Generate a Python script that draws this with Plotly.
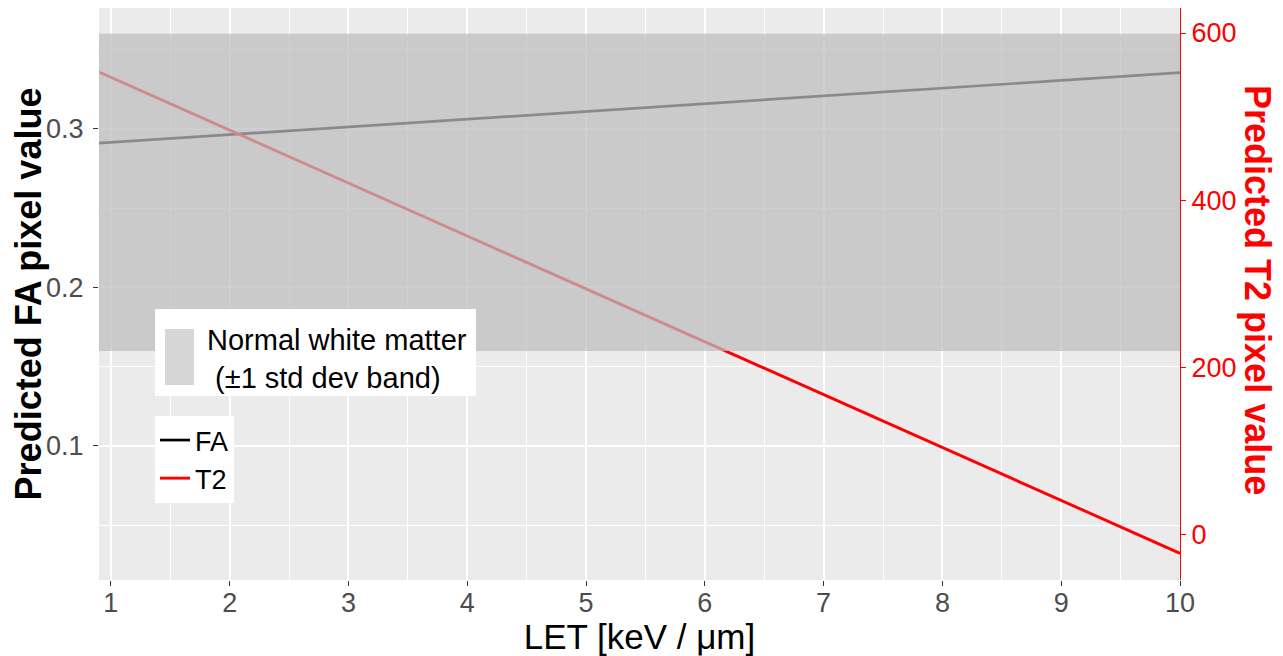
import plotly.graph_objects as go

# Data
LET = [0.9, 10.0]
FA = [0.2910, 0.3355]
T2 = [553.4, -21.9]
band_low, band_high = 0.16, 0.36
x_ticks = [1, 2, 3, 4, 5, 6, 7, 8, 9, 10]
fa_ticks = [0.1, 0.2, 0.3]
fa_ticktext = ["0.1", "0.2", "0.3"]
t2_ticks = [0, 200, 400, 600]
band_label = "Normal white matter<br>\u00a0(±1 std dev band)"

FONT = "Liberation Sans, Arial, sans-serif"
TICKGRAY = "#4D4D4D"
RED = "#FF0000"

fig = go.Figure()
fig.add_trace(go.Scatter(x=LET, y=FA, mode="lines", name="FA",
                         line=dict(color="black", width=2.7), legend="legend2", yaxis="y"))
fig.add_trace(go.Scatter(x=LET, y=T2, mode="lines", name="T2",
                         line=dict(color=RED, width=2.9), legend="legend2", yaxis="y2"))

# band (drawn above the lines, semi-transparent, like the reference)
fig.add_shape(type="rect", xref="paper", yref="y", x0=0, x1=1, y0=band_low, y1=band_high,
              fillcolor="rgb(189,189,189)", opacity=0.73, line=dict(width=0), layer="above")

# band legend box (drawn as shapes + text)
fig.add_shape(type="rect", xref="paper", yref="paper", x0=0.0518, x1=0.3488, y0=0.3217, y1=0.4738,
              fillcolor="white", line=dict(width=0), layer="above")
fig.add_shape(type="rect", xref="paper", yref="paper", x0=0.0611, x1=0.0879, y0=0.3409, y1=0.4388,
              fillcolor="#D6D6D6", line=dict(width=0), layer="above")
fig.add_annotation(text=band_label, xref="paper", yref="paper", x=0.0985, y=0.3864,
                   xanchor="left", yanchor="middle", align="left", showarrow=False,
                   font=dict(size=29, color="black", family=FONT))

fig.update_layout(
    width=1275, height=648,
    margin=dict(l=91, r=103, t=0, b=76),
    paper_bgcolor="white", plot_bgcolor="#EBEBEB",
    font=dict(family=FONT, size=27, color="black"),
    xaxis=dict(range=[0.9, 10], tickvals=x_ticks, showgrid=True, gridcolor="white", gridwidth=2.1,
               zeroline=False, showline=False, ticks="outside", ticklen=5, tickcolor="#333333",
               tickfont=dict(size=27, color=TICKGRAY), ticklabelstandoff=-6,
               minor=dict(dtick=0.5, tick0=0.5, showgrid=True, gridcolor="white", gridwidth=1.1, ticks=""),
               title=dict(text="LET [keV / μm]", font=dict(size=35, color="black"), standoff=8)),
    yaxis=dict(range=[0.01546, 0.3763], tickvals=fa_ticks, ticktext=fa_ticktext,
               showgrid=True, gridcolor="white", gridwidth=2.1,
               zeroline=False, showline=False, ticks="outside", ticklen=5, tickcolor="#333333",
               tickfont=dict(size=27, color=TICKGRAY), ticklabelstandoff=4,
               minor=dict(dtick=0.05, tick0=0.05, showgrid=True, gridcolor="white", gridwidth=1.1, ticks=""),
               title=dict(text="<b>Predicted FA pixel value</b>", font=dict(size=36, color="black"), standoff=8)),
    yaxis2=dict(range=[-53.8, 629.9], tickvals=t2_ticks, overlaying="y", side="right",
                showgrid=False, zeroline=False, showline=True, linecolor=RED, linewidth=1,
                ticks="outside", ticklen=5, tickcolor=RED, tickprefix="\u00a0\u2009",
                tickfont=dict(size=27, color=RED)),
    legend2=dict(x=0.0518, y=0.2867, xanchor="left", yanchor="top", bgcolor="white",
                 font=dict(size=27, color="black"), itemwidth=30, tracegroupgap=0),
    showlegend=True,
)

fig.add_annotation(text="<b>Predicted T2 pixel value</b>", xref="paper", yref="paper",
                   x=1.0712, y=0.507, xanchor="center", yanchor="middle", textangle=90,
                   showarrow=False, font=dict(size=36, color=RED, family=FONT))

fig.write_html("out.html")
